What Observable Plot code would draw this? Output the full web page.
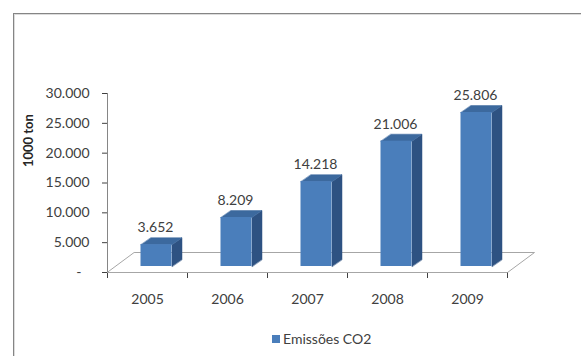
<!DOCTYPE html>
<html><head><meta charset="utf-8">
<script src="https://cdn.jsdelivr.net/npm/d3@7"></script>
<script src="https://cdn.jsdelivr.net/npm/@observablehq/plot@0.6"></script>
<style>
html,body{margin:0;padding:0;background:#fff;}
#wrap{position:relative;width:581px;height:356px;overflow:hidden;font-family:Lato,sans-serif;}
#frame{position:absolute;left:13px;top:13px;width:700px;height:500px;border-top:1px solid #858585;border-left:1px solid #858585;box-shadow:inset 1px 1px 0 #dcdcdc;}
#chart{position:absolute;left:0;top:0;}
#legend{position:absolute;left:272px;top:330px;display:flex;align-items:center;font-size:14px;line-height:18px;color:#404040;}
#legend .sw{display:inline-block;width:8px;height:8px;background:#4a7ebb;margin-right:3px;}
[aria-label^="y-axis"] line,[aria-label^="x-axis"] line{stroke:#868686;}
</style></head>
<body><div id="wrap"><div id="frame"></div><div id="chart"></div><div id="legend"><span class="sw"></span><span id="legtext"></span></div></div>
<script>
const years = ["2005", "2006", "2007", "2008", "2009"];
const emissions = [3652, 8209, 14218, 21006, 25806];
const yTicks = [0, 5000, 10000, 15000, 20000, 25000, 30000];
const seriesName = "Emissões CO2";
const yTitle = "1000 ton";

const W = 581, H = 320, mL = 107, mR = 74, mT = 93, mB = 48;
const yMax = yTicks[yTicks.length - 1];
const kx = (W - mL - mR) / years.length;   // px per category
const ky = (H - mT - mB) / yMax;           // px per unit
const half = 15.5 / kx;                    // half bar width
const ddx = 10 / kx, ddy = 7 / ky;         // bar depth
const fdx = 27 / kx, fdy = 20 / ky;        // floor depth
const frontColor = "#4a7ebb", topColor = "#3c699e", sideColor = "#2e5282";

const loc = d3.formatLocale({decimal: ",", thousands: ".", grouping: [3], currency: ["", ""]});
const fmt = loc.format(",");

const rows = years.map((year, i) => ({year, i, value: emissions[i]}));

const sidePts = rows.flatMap(d => {
  const xr = d.i + 0.5 + half;
  return [
    {z: d.year, x: xr, y: 0},
    {z: d.year, x: xr, y: d.value},
    {z: d.year, x: xr + ddx, y: d.value + ddy},
    {z: d.year, x: xr + ddx, y: ddy}
  ];
});
const topPts = rows.flatMap(d => {
  const xl = d.i + 0.5 - half, xr = d.i + 0.5 + half;
  return [
    {z: d.year, x: xl, y: d.value},
    {z: d.year, x: xr, y: d.value},
    {z: d.year, x: xr + ddx, y: d.value + ddy},
    {z: d.year, x: xl + ddx, y: d.value + ddy}
  ];
});
const n = years.length;
const floorPts = [
  {x: 0, y: 0}, {x: n, y: 0}, {x: n + fdx, y: fdy}, {x: fdx, y: fdy}
];

const chart = Plot.plot({
  width: W, height: H,
  marginLeft: mL, marginRight: mR, marginTop: mT, marginBottom: mB,
  style: {fontFamily: "Lato, sans-serif", fontSize: "14px", color: "#404040", background: "transparent", overflow: "visible"},
  x: {type: "linear", domain: [0, n], ticks: d3.range(n + 1), tickFormat: () => "", tickSize: 6, label: null},
  y: {type: "linear", domain: [0, yMax], ticks: yTicks, tickFormat: d => d === 0 ? "-\u2007" : fmt(d), tickSize: 5, tickPadding: 13, label: null},
  marks: [
    Plot.line(floorPts, {x: "x", y: "y", curve: "linear-closed", stroke: "#a6a6a6", strokeWidth: 1, fill: "none"}),
    Plot.ruleX([0], {y1: 0, y2: yMax, stroke: "#868686"}),
    Plot.line(sidePts, {x: "x", y: "y", z: "z", curve: "linear-closed", fill: sideColor, stroke: sideColor, strokeWidth: 0.5, dx: 9, dy: -6}),
    Plot.line(topPts, {x: "x", y: "y", z: "z", curve: "linear-closed", fill: topColor, stroke: topColor, strokeWidth: 0.5, dx: 9, dy: -6}),
    Plot.rect(rows, {x1: d => d.i + 0.5 - half, x2: d => d.i + 0.5 + half, y1: 0, y2: "value", fill: frontColor, dx: 9, dy: -6}),
    Plot.text(rows, {x: d => d.i + 0.5, y: "value", text: d => fmt(d.value), dx: 8, dy: -23, fill: "#404040"}),
    Plot.text(rows, {x: d => d.i + 0.5, y: 0, text: "year", dy: 27, fill: "#404040"}),
    Plot.text([yTitle], {frameAnchor: "left", text: d => d, rotate: -90, dx: -79, dy: -16, fontWeight: "bold", fontSize: 13, fill: "#262626"})
  ]
});
document.getElementById("chart").appendChild(chart);
document.getElementById("legtext").textContent = seriesName;
</script>
</body></html>
